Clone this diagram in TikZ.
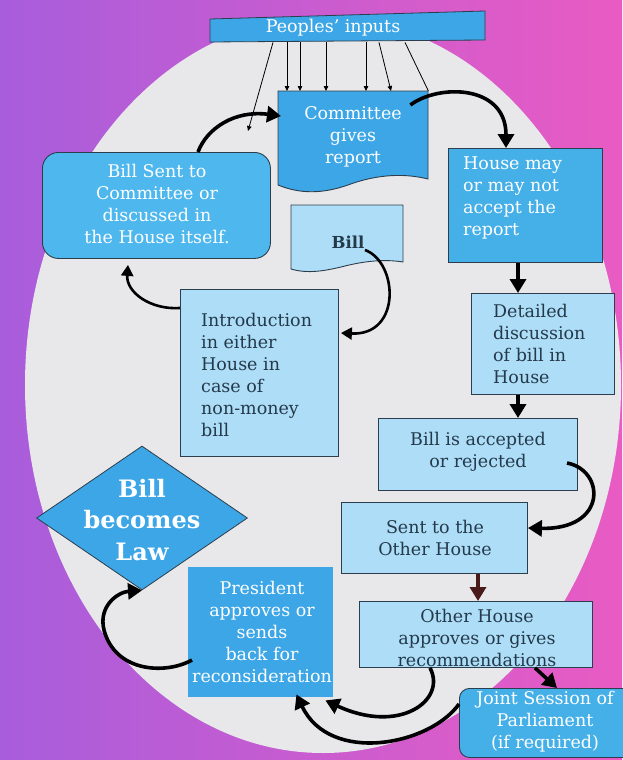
\documentclass[tikz,border=0pt]{standalone}
\usepackage{fontspec}
\setmainfont{DejaVu Serif}
\usetikzlibrary{arrows.meta,shapes.geometric,calc}
\definecolor{bgl}{HTML}{A85DDC}
\definecolor{bgr}{HTML}{E95BC3}
\definecolor{ellg}{HTML}{E8E8EA}
\definecolor{dkblue}{HTML}{3CA6E6}
\definecolor{hblue}{HTML}{45AFE8}
\definecolor{bsentc}{HTML}{4DB7EE}
\definecolor{lightb}{HTML}{ADDDF7}
\definecolor{bord}{HTML}{2C3E4E}
\definecolor{txtdark}{HTML}{24394A}
\definecolor{maroon}{HTML}{4A1A1A}
\begin{document}
\begin{tikzpicture}[x=1pt,y=-1pt,
  bx/.style={draw=bord, line width=0.9pt, inner sep=0pt, anchor=north west},
  hold/.style={inner sep=0pt, anchor=north west},
  wt/.style={text=white, align=center, inner sep=0pt, font=\fontsize{17.5}{22}\selectfont},
  dt/.style={text=txtdark, align=center, inner sep=0pt, font=\fontsize{17.5}{22}\selectfont},
  bigarr/.style={line width=3.6pt, -{Triangle[length=14pt,width=16pt]}},
  midarr/.style={line width=2.6pt, -{Triangle[length=11pt,width=12pt]}},
  thinarr/.style={line width=0.8pt, -{Triangle[length=5pt,width=4.5pt]}},
  thinline/.style={line width=0.8pt}]
\useasboundingbox (0,0) rectangle (622,760);
\shade[left color=bgl, right color=bgr] (0,0) rectangle (622,760);
\fill[ellg] (323,385) ellipse [x radius=298, y radius=368];

% banner
\filldraw[fill=dkblue, draw=bord, line width=0.8pt] (210,19) -- (485,11) -- (485,40) -- (210,42) -- cycle;
\node[hold, minimum width=275pt, minimum height=28pt] (pin) at (210,14) {};
\node[wt] (tpin) at (333,28) {Peoples' inputs};

% committee document
\filldraw[fill=dkblue, draw=bord, line width=0.9pt] (278,91) -- (428,91) -- (428,179) .. controls (400,172) and (372,176) .. (348,185) .. controls (322,194) and (300,194) .. (278,185) -- cycle;
\node[hold, minimum width=150pt, minimum height=101pt] (comm) at (278,91) {};
\node[wt] (tcomm) at (353,137) {Committee\\gives\\report};

% bill document
\filldraw[fill=lightb, draw=bord, line width=0.9pt] (291,205) -- (403,205) -- (403,262) .. controls (385,259) and (365,261) .. (345,266) .. controls (325,271) and (308,274) .. (291,269) -- cycle;
\node[hold, minimum width=112pt, minimum height=67pt] (bill) at (291,205) {};
\node[dt, font=\fontsize{16.5}{20}\selectfont\bfseries] (tbill) at (348,242) {Bill};

% boxes
\node[bx, fill=bsentc, rounded corners=16pt, minimum width=228pt, minimum height=106pt] (bsent) at (42,152) {};
\node[wt] (tbsent) at (157,204) {Bill Sent to\\Committee or\\discussed in\\the House itself.};

\node[bx, fill=lightb, minimum width=158pt, minimum height=167pt] (intro) at (180,289) {};
\node[dt, align=left, anchor=west] (tintro) at (201,375) {Introduction\\in either\\House in\\case of\\non-money\\bill};

\node[bx, fill=hblue, minimum width=154pt, minimum height=114pt] (hm) at (448,148) {};
\node[wt, align=left, anchor=west] (thm) at (463,198) {House may\\or may not\\accept the\\report};

\node[bx, fill=lightb, minimum width=143pt, minimum height=101pt] (dd) at (471,293) {};
\node[dt, align=left, anchor=west] (tdd) at (493,344) {Detailed\\discussion\\of bill in\\House};

\node[bx, fill=lightb, minimum width=199pt, minimum height=72pt] (ba) at (378,418) {};
\node[dt] (tba) at (478,452) {Bill is accepted\\or rejected};

\node[bx, fill=lightb, minimum width=186pt, minimum height=71pt] (so) at (341,502) {};
\node[dt] (tso) at (435,538) {Sent to the\\Other House};

\node[bx, fill=lightb, minimum width=233pt, minimum height=66pt] (oh) at (359,601) {};
\node[dt] (toh) at (477,638) {Other House\\approves or gives\\recommendations};

\node[bx, fill=hblue, rounded corners=10pt, minimum width=180pt, minimum height=69pt] (js) at (459,688) {};
\node[wt] (tjs) at (545,722) {Joint Session of\\Parliament\\(if required)};

\node[hold, fill=dkblue, minimum width=145pt, minimum height=130pt] (pres) at (188,567) {};
\node[wt] (tpres) at (262,632) {President\\approves or\\sends\\back for\\reconsideration};

\node[diamond, draw=bord, line width=0.8pt, fill=dkblue, minimum width=211pt, minimum height=144pt, inner sep=0pt] (law) at (142,518) {};
\node[wt, font=\fontsize{24}{31.5}\selectfont\bfseries] (tlaw) at (142,520) {Bill\\becomes\\Law};

% people's input arrows
\coordinate (in1) at (248,131);
\draw[thinarr] ($(pin.south west)+(63,0)$) -- (in1);
\draw[thinarr] ($(pin.south west)+(77,0)$) -- ($(comm.north west)+(9,0)$);
\draw[thinarr] ($(pin.south west)+(90,0)$) -- ($(comm.north west)+(22,0)$);
\draw[thinarr] ($(pin.south west)+(116,0)$) -- ($(comm.north west)+(48,0)$);
\draw[thinarr] ($(pin.south west)+(156,0)$) -- ($(comm.north west)+(88,0)$);
\draw[thinarr] ($(pin.south west)+(169,0)$) -- ($(comm.north west)+(113,0)$);
\draw[thinline] ($(pin.south west)+(195,0)$) -- (comm.north east);

% main flow arrows
\draw[bigarr] ($(bsent.north west)+(156,0)$) .. controls (207,128) and (235,110) .. ($(comm.north west)+(3,25)$);
\draw[bigarr] ($(comm.north east)+(-18,14)$) .. controls (438,84) and (506,84) .. ($(hm.north west)+(58,0)$);
\draw[bigarr] ($(hm.south west)+(70,0)$) -- ($(dd.north west)+(47,0)$);
\draw[bigarr] ($(dd.south west)+(47,0)$) -- ($(ba.north west)+(140,0)$);
\draw[bigarr] ($(ba.north west)+(189,45)$) .. controls (605,470) and (608,530) .. ($(so.north east)+(0,26)$);
\draw[bigarr, draw=maroon] ($(so.south west)+(137,0)$) -- ($(oh.north west)+(119,0)$);
\draw[bigarr] ($(oh.south west)+(176,0)$) -- ($(js.north west)+(98,0)$);
\draw[bigarr] ($(oh.south west)+(71,0)$) .. controls (447,700) and (400,735) .. ($(pres.south east)+(-8,3)$);
\draw[bigarr] ($(js.north west)+(0,16)$) .. controls (430,745) and (330,765) .. ($(pres.south east)+(-37,-3)$);
\draw[bigarr] ($(pres.north west)+(4,93)$) .. controls (165,675) and (115,672) .. (104,630) .. controls (98,606) and (118,592) .. (law.south);
\draw[midarr] ($(intro.north west)+(0,19)$) .. controls (150,310) and (126,292) .. ($(bsent.south west)+(86,6)$);
\draw[midarr] ($(bill.north west)+(74,45)$) .. controls (398,262) and (402,336) .. ($(intro.north east)+(2,44)$);
\end{tikzpicture}
\end{document}
